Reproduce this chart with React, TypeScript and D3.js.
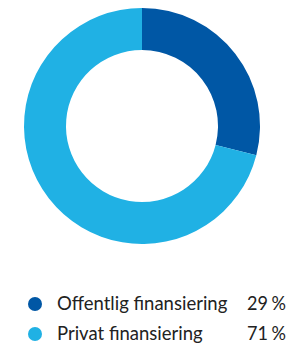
import React from "react";
import * as d3 from "d3";

const categories = ["Offentlig finansiering", "Privat finansiering"];
const values = [29, 71];
const labels = ["29 %", "71 %"];
const colors = ["#0057A5", "#20B1E4"];

export default function App() {
  const width = 291;
  const height = 348;
  const cx = 142;
  const cy = 126;
  const outer = 118;
  const inner = 76;
  const pie = d3.pie<number>().sort(null).value((d) => d);
  const arcs = pie(values);
  const arc = d3.arc<d3.PieArcDatum<number>>().innerRadius(inner).outerRadius(outer);
  const legendY = d3.scalePoint<string>().domain(categories).range([304, 334]);
  return (
    <svg width={width} height={height} style={{ position: "absolute", left: 0, top: 0, background: "#fff" }}>
      <g transform={`translate(${cx},${cy})`}>
        {arcs.map((a, i) => (
          <path key={i} d={arc(a) || ""} fill={colors[i]} />
        ))}
      </g>
      {categories.map((c, i) => (
        <g key={c} transform={`translate(0,${legendY(c)})`}>
          <circle cx={35} cy={0} r={7} fill={colors[i]} />
          <text x={57} y={0} dy="0.35em" fontFamily="Lato" fontSize={18.5} fill="#222">
            {c}
          </text>
          <text x={247} y={0} dy="0.35em" fontFamily="Lato" fontSize={18.5} fill="#222" textLength={39} lengthAdjust="spacingAndGlyphs" style={{ wordSpacing: "-1px" }}>
            {labels[i]}
          </text>
        </g>
      ))}
    </svg>
  );
}
